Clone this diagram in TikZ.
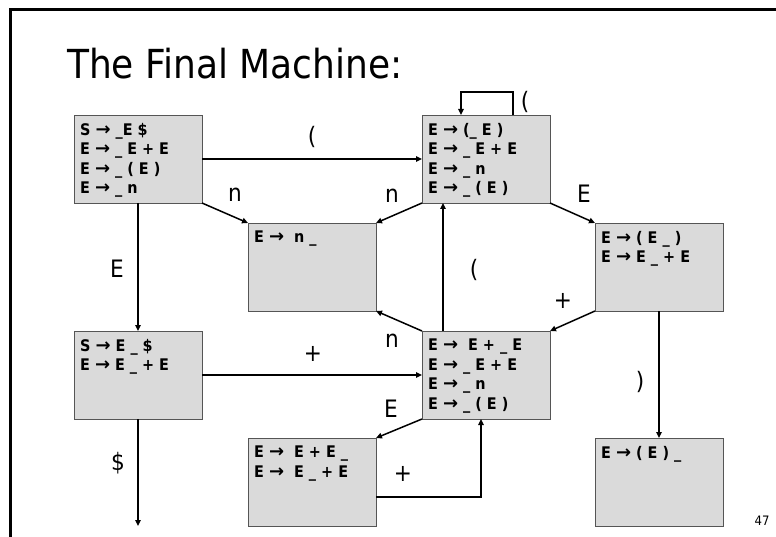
\documentclass[tikz,border=0pt]{standalone}
\usepackage{fontspec}
\setmainfont{DejaVu Sans Condensed}
\newfontfamily\arrowfont{DejaVu Sans}
\newcommand{\ra}{{\arrowfont\bfseries\fontsize{18}{19.5}\selectfont →}}
\usetikzlibrary{arrows.meta}
\definecolor{boxfill}{RGB}{218,218,218}
\definecolor{boxline}{RGB}{85,85,85}
\begin{document}
\begin{tikzpicture}[x=1pt,y=-1pt,
  state/.style={draw=boxline, fill=boxfill, line width=0.9pt,
    minimum width=128pt, minimum height=88pt, inner sep=0pt, outer sep=0pt},
  items/.style={label distance=0pt, label={[anchor=north west, align=left,
    inner sep=0pt, xshift=6pt, yshift=-8pt,
    font=\fontsize{16}{19.5}\selectfont\bfseries]north west:{#1}}},
  arr/.style={line width=1.5pt, -{Triangle[length=6pt,width=5.5pt]}},
  lbl/.style={font=\fontsize{24}{28}\selectfont, inner sep=0pt},
  frame/.style={line width=2.5pt}
]
\useasboundingbox (0,0) rectangle (776,537);
\draw[frame] (10.5,537) -- (10.5,9.5) -- (776,9.5);
\node[anchor=base west, font=\fontsize{40}{48}\selectfont, inner sep=0pt] (title) at (67,79) {The Final Machine:};

\node[state, items={S \ra{} \_E \$\\E \ra{} \_ E + E\\E \ra{} \_ ( E )\\E \ra{} \_ n}] (A) at (138,159) {};
\node[state, items={E \ra{} (\_ E )\\E \ra{} \_ E + E\\E \ra{} \_ n\\E \ra{} \_ ( E )}] (B) at (486,159) {};
\node[state, items={E \ra{}~ n \_}] (C) at (312,267) {};
\node[state, items={E \ra{} ( E \_ )\\E \ra{} E \_ + E}] (D) at (659,267) {};
\node[state, items={S \ra{} E \_ \$\\E \ra{} E \_ + E}] (E) at (138,375) {};
\node[state, items={E \ra{}~ E + \_ E\\E \ra{} \_ E + E\\E \ra{} \_ n\\E \ra{} \_ ( E )}] (F) at (486,375) {};
\node[state, items={E \ra{}~ E + E \_\\E \ra{}~ E \_ + E}] (G) at (312,482) {};
\node[state, items={E \ra{} ( E ) \_}] (H) at (659,482) {};
\coordinate (Eend) at (138,526);

\draw[arr] (A.east) -- (B.west);
\draw[arr] (A.south east) -- (C.north west);
\draw[arr] (A.south) -- (E.north);
\draw[arr] ([xshift=27pt]B.north) -- ++(0,-23) -| ([xshift=-25pt]B.north);
\draw[arr] (B.south west) -- (C.north east);
\draw[arr] (B.south east) -- (D.north west);
\draw[arr] ([xshift=-43pt]F.north) -- ([xshift=-43pt]B.south);
\draw[arr] (F.north west) -- (C.south east);
\draw[arr] (D.south west) -- (F.north east);
\draw[arr] (E.east) -- (F.west);
\draw[arr] (F.south west) -- (G.north east);
\draw[arr] ([yshift=-15pt]G.east) -| ([xshift=-5pt]F.south);
\draw[arr] (D.south) -- (H.north);
\draw[arr] (E.south) -- (Eend);

\node[lbl] (l1) at (312,137) {(};
\node[lbl] (l2) at (235,195) {n};
\node[lbl] (l3) at (392,196) {n};
\node[lbl] (l4) at (584,194) {E};
\node[lbl] (l5) at (525,102) {(};
\node[lbl] (l6) at (117,269) {E};
\node[lbl] (l7) at (474,270) {(};
\node[lbl] (l8) at (563,301) {+};
\node[lbl] (l9) at (392,341) {n};
\node[lbl] (l10) at (313,354) {+};
\node[lbl] (l11) at (391,409) {E};
\node[lbl] (l12) at (640,382) {)};
\node[lbl] (l13) at (118,463) {\$};
\node[lbl] (l14) at (403,474) {+};
\node[font=\fontsize{13}{15}\selectfont, inner sep=0pt] (pg) at (762,521) {47};
\end{tikzpicture}
\end{document}
